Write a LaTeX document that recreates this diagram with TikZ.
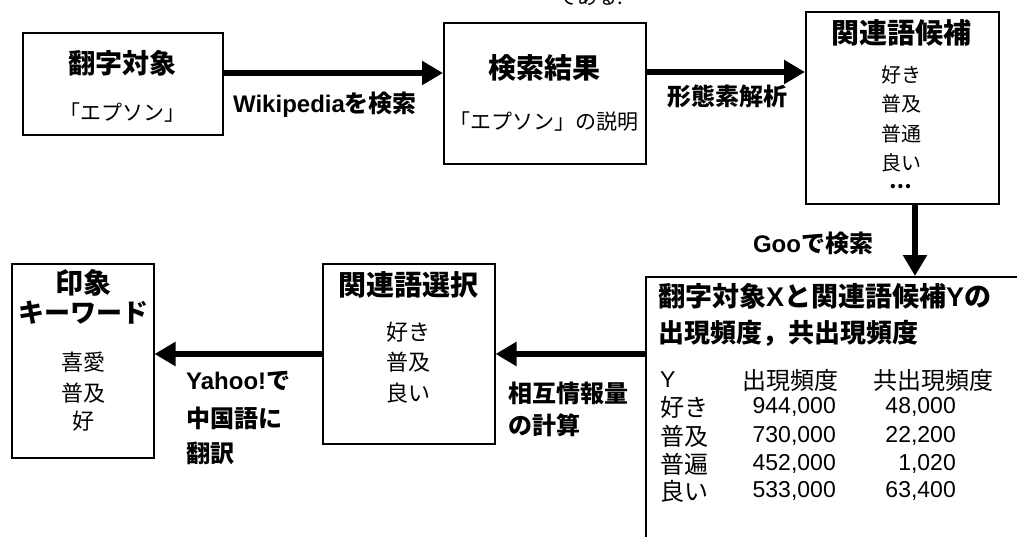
\documentclass[tikz,border=0pt]{standalone}
\usepackage{fontspec}
\setmainfont{Noto Sans CJK JP}
\newfontfamily\lat{Liberation Sans}
\usetikzlibrary{arrows.meta}
\begin{document}
\begin{tikzpicture}[x=1pt,y=-1pt,
  box/.style={draw, line width=1.5pt, inner sep=0pt, anchor=north west},
  flow/.style={line width=6pt, -{Triangle[length=21pt,width=23pt]}},
  ttl/.style={font=\fontsize{28}{30}\selectfont\bfseries, inner sep=0pt},
  itm/.style={font=\fontsize{21}{24}\selectfont, inner sep=0pt},
  lbl/.style={font=\fontsize{24}{28}\selectfont\bfseries, inner sep=0pt},
  tabj/.style={font=\fontsize{24}{26}\selectfont, inner sep=0pt},
  tabn/.style={font=\fontsize{23}{26}\selectfont\lat, inner sep=0pt},
]
\clip (0,0) rectangle (1017,536);
% fragment of text above
\node[font=\fontsize{20}{22}\selectfont, inner sep=0pt] (frag) at (590,-3) {である.};
% boxes
\node[box, minimum width=200pt, minimum height=102pt] (src) at (22,32) {};
\node[box, minimum width=202pt, minimum height=141pt] (res) at (443,22) {};
\node[box, minimum width=193pt, minimum height=192pt] (cand) at (805,11) {};
\node[box, minimum width=500pt, minimum height=400pt] (big) at (645,276) {};
\node[box, minimum width=172pt, minimum height=180pt] (sel) at (322,263) {};
\node[box, minimum width=142pt, minimum height=194pt] (imp) at (11,263) {};
% box texts
\node[ttl, font=\fontsize{27}{30}\selectfont\bfseries] (srct) at (122,63) {翻字対象};
\node[itm] (srcs) at (122,113) {「エプソン」};
\node[ttl] (rest) at (544,68) {検索結果};
\node[itm] (ress) at (544,122) {「エプソン」の説明};
\node[ttl] (candt) at (901,33) {関連語候補};
\node[itm, font=\fontsize{20}{24}\selectfont] (c1) at (901,75) {好き};
\node[itm, font=\fontsize{20}{24}\selectfont] (c2) at (901,104) {普及};
\node[itm, font=\fontsize{20}{24}\selectfont] (c3) at (901,134) {普通};
\node[itm, font=\fontsize{20}{24}\selectfont] (c4) at (901,163) {良い};
\node[itm, font=\fontsize{20}{24}\selectfont\bfseries] (c5) at (901,187) {…};
\node[ttl] (selt) at (408,285) {関連語選択};
\node[itm, font=\fontsize{22}{24}\selectfont] (s1) at (408,332) {好き};
\node[itm, font=\fontsize{22}{24}\selectfont] (s2) at (408,362) {普及};
\node[itm, font=\fontsize{22}{24}\selectfont] (s3) at (408,393) {良い};
\node[ttl] (impt1) at (83,283) {印象};
\node[ttl, font=\fontsize{26}{28}\selectfont\bfseries] (impt2) at (83,313) {キーワード};
\node[itm, font=\fontsize{22}{24}\selectfont] (i1) at (83,362) {喜愛};
\node[itm, font=\fontsize{22}{24}\selectfont] (i2) at (83,393) {普及};
\node[itm, font=\fontsize{22}{24}\selectfont] (i3) at (83,421) {好};
% big box contents
\node[ttl, font=\fontsize{27}{30}\selectfont\bfseries, anchor=west] (bt1) at (658,296) {翻字対象{\lat X}と関連語候補{\lat Y}の};
\node[ttl, font=\fontsize{26}{30}\selectfont\bfseries, anchor=west] (bt2) at (658,333) {出現頻度，共出現頻度};
\node[tabn, anchor=west] (hY) at (660,380) {Y};
\node[tabj, anchor=west] (hF) at (742,380) {出現頻度};
\node[tabj, anchor=west] (hC) at (873,380) {共出現頻度};
\node[tabj, anchor=west] (r1) at (660,407) {好き};
\node[tabj, anchor=west] (r2) at (660,436) {普及};
\node[tabj, anchor=west] (r3) at (660,464) {普遍};
\node[tabj, anchor=west] (r4) at (660,491) {良い};
\node[tabn, anchor=east] (f1) at (836,407) {944,000};
\node[tabn, anchor=east] (f2) at (836,436) {730,000};
\node[tabn, anchor=east] (f3) at (836,464) {452,000};
\node[tabn, anchor=east] (f4) at (836,491) {533,000};
\node[tabn, anchor=east] (k1) at (956,407) {48,000};
\node[tabn, anchor=east] (k2) at (956,436) {22,200};
\node[tabn, anchor=east] (k3) at (956,464) {1,020};
\node[tabn, anchor=east] (k4) at (956,491) {63,400};
% connector labels
\node[lbl] (l1) at (325,105) {{\lat Wikipedia}を検索};
\node[lbl] (l2) at (727,96) {形態素解析};
\node[lbl] (l3) at (813,243) {{\lat Goo}で検索};
\node[lbl, anchor=west] (l4a) at (508,393) {相互情報量};
\node[lbl, anchor=west] (l4b) at (508,425) {の計算};
\node[lbl, anchor=west] (l5a) at (186,381) {{\lat Yahoo!}で};
\node[lbl, anchor=west] (l5b) at (186,418) {中国語に};
\node[lbl, anchor=west] (l5c) at (186,453) {翻訳};
% connector reference points
\coordinate (ya) at (0,73);
\coordinate (yb) at (0,72);
\coordinate (xg) at (915,0);
\coordinate (yc) at (0,354);
% connectors
\draw[flow] (src.east |- ya) -- (res.west |- ya);
\draw[flow] (res.east |- yb) -- (cand.west |- yb);
\draw[flow] (cand.south -| xg) -- (big.north -| xg);
\draw[flow] (big.west |- yc) -- (sel.east |- yc);
\draw[flow] (sel.west |- yc) -- (imp.east |- yc);
\end{tikzpicture}
\end{document}
